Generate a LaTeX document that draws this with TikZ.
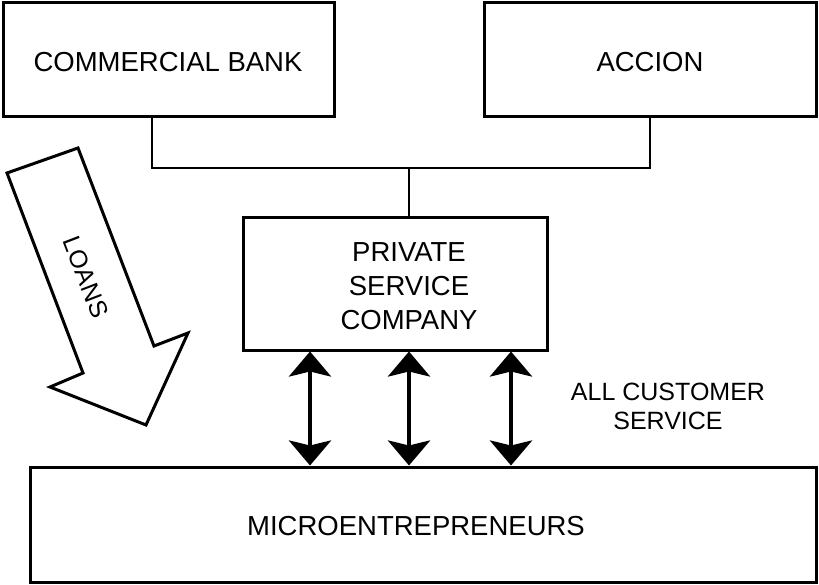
\documentclass[tikz,border=0pt]{standalone}
\usepackage{fontspec}
\setmainfont{Liberation Sans}
\usetikzlibrary{arrows.meta}
\begin{document}
\begin{tikzpicture}[x=1pt,y=-1pt,
  box/.style={draw, line width=3pt, inner sep=0pt, minimum width=#1},
  lbl/.style={font=\fontsize{27.5}{34}\selectfont, align=center, inner sep=0pt},
  small/.style={font=\fontsize{25}{29}\selectfont, align=center, inner sep=0pt},
  tree/.style={line width=2.5pt},
  dbl/.style={line width=4.5pt, {Stealth[length=25pt,width=42pt,inset=5pt]}-{Stealth[length=25pt,width=42pt,inset=5pt]}},
  loans/.style={line width=3pt, line join=miter}]
\useasboundingbox (0,0) rectangle (819,585);
% boxes
\node[box=331pt, minimum height=114pt] (bank) at (168.5,60) {};
\node[lbl] (bankt) at (168,62) {COMMERCIAL BANK};
\node[box=332pt, minimum height=114pt] (accion) at (650,60) {};
\node[lbl] (acciont) at (650,62) {ACCION};
\node[box=304pt, minimum height=132pt] (psc) at (395,284) {};
\node[lbl] (psct) at (409,286) {PRIVATE\\SERVICE\\COMPANY};
\node[box=786pt, minimum height=115pt] (micro) at (423,524.5) {};
\node[lbl] (microt) at (416,526) {MICROENTREPRENEURS};
\node[small] (acs) at (668,406) {ALL CUSTOMER\\SERVICE};
% tree connector
\coordinate (c1) at (152,168);
\coordinate (j) at (409,168);
\draw[tree] (bank.south -| c1) -- (c1) -- (c1 -| accion.south) -- (accion.south);
\draw[tree] (j) -- (psc.north -| j);
% double arrows
\coordinate (a1) at (310,0);
\coordinate (a2) at (409,0);
\coordinate (a3) at (511,0);
\draw[dbl] (psc.south -| a1) -- (micro.north -| a1);
\draw[dbl] (psc.south -| a2) -- (micro.north -| a2);
\draw[dbl] (psc.south -| a3) -- (micro.north -| a3);
% loans arrow
\draw[loans] (7,173) -- (78,148) -- (154,346) -- (188,333) -- (146,425) -- (50,387) -- (83,373) -- cycle;
\node[small, rotate=-69] (loanst) at (86,277) {LOANS};
\end{tikzpicture}
\end{document}
